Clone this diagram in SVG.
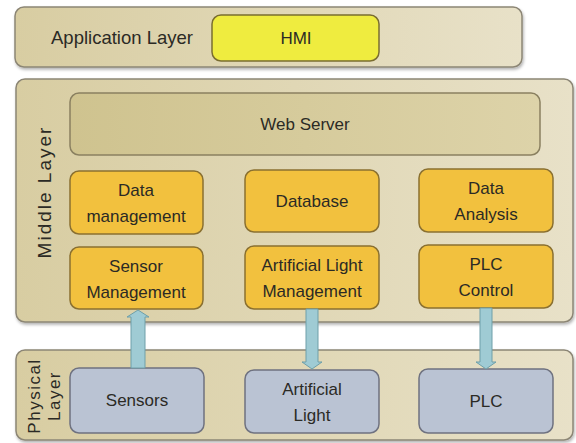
<svg xmlns="http://www.w3.org/2000/svg" width="576" height="443" viewBox="0 0 576 443">
<defs>
<linearGradient id="panelG" x1="0" y1="0" x2="1" y2="0">
<stop offset="0" stop-color="#d8cda2"/>
<stop offset="1" stop-color="#e8e1c8"/>
</linearGradient>
<linearGradient id="webG" x1="0" y1="0" x2="1" y2="0">
<stop offset="0" stop-color="#cfc38f"/>
<stop offset="1" stop-color="#ddd3a9"/>
</linearGradient>
<filter id="sh" x="-5%" y="-5%" width="110%" height="120%">
<feDropShadow dx="1" dy="2" stdDeviation="1.5" flood-color="#000" flood-opacity="0.3"/>
</filter>
<style>
.panel{fill:url(#panelG);stroke:#8c8675;stroke-width:1.5;filter:url(#sh)}
.orange{fill:#f2c13e;stroke:#8a7030;stroke-width:1.5}
.phys{fill:#bac3d3;stroke:#6f7280;stroke-width:1.5}
.web{fill:url(#webG);stroke:#8a8060;stroke-width:1.5}
.hmi{fill:#efec3f;stroke:#7a6d30;stroke-width:1.5}
text{font-family:"Liberation Sans",Arial,sans-serif;font-size:17px;fill:#2b2a25;text-anchor:middle}
.arrow{fill:#9fcbd4;stroke:#6e9fa9;stroke-width:1}
</style>
</defs>
<g id="application-layer">
<rect class="panel" x="15" y="7" width="507" height="60" rx="9"/>
<text x="122" y="44" style="font-size:18.5px">Application Layer</text>
</g>
<g id="hmi">
<rect class="hmi" x="212" y="15" width="167" height="46" rx="9"/>
<text x="296" y="44">HMI</text>
</g>
<g id="middle-layer">
<rect class="panel" x="16" y="79" width="557" height="243" rx="9"/>
<text transform="translate(51,192) rotate(-90)" style="font-size:19px;letter-spacing:2px">Middle Layer</text>
</g>
<g id="physical-layer">
<rect class="panel" x="16" y="350" width="557" height="90" rx="9"/>
<text transform="translate(40,396) rotate(-90)" style="font-size:17px;letter-spacing:1.5px">Physical</text>
<text transform="translate(60,396) rotate(-90)" style="font-size:17px;letter-spacing:1.5px">Layer</text>
</g>
<g id="web-server">
<rect class="web" x="70" y="93" width="470" height="62" rx="9"/>
<text x="305" y="130">Web Server</text>
</g>
<g id="data-management">
<rect class="orange" x="70" y="171" width="133" height="63" rx="9"/>
<text x="136" y="196">Data</text>
<text x="136" y="222">management</text>
</g>
<g id="database">
<rect class="orange" x="245" y="170" width="134" height="62" rx="9"/>
<text x="312" y="207">Database</text>
</g>
<g id="data-analysis">
<rect class="orange" x="419" y="169" width="134" height="63" rx="9"/>
<text x="486" y="194">Data</text>
<text x="486" y="220">Analysis</text>
</g>
<g id="sensor-management">
<rect class="orange" x="70" y="247" width="133" height="62" rx="9"/>
<text x="136" y="272">Sensor</text>
<text x="136" y="298">Management</text>
</g>
<g id="artificial-light-management">
<rect class="orange" x="245" y="246" width="134" height="63" rx="9"/>
<text x="312" y="271">Artificial Light</text>
<text x="312" y="297">Management</text>
</g>
<g id="plc-control">
<rect class="orange" x="419" y="245" width="134" height="63" rx="9"/>
<text x="486" y="270">PLC</text>
<text x="486" y="296">Control</text>
</g>
<g id="sensors">
<rect class="phys" x="70" y="368" width="134" height="65" rx="9"/>
<text x="137" y="406">Sensors</text>
</g>
<g id="artificial-light">
<rect class="phys" x="245" y="370" width="134" height="63" rx="9"/>
<text x="312" y="395">Artificial</text>
<text x="312" y="421">Light</text>
</g>
<g id="plc">
<rect class="phys" x="419" y="369" width="134" height="64" rx="9"/>
<text x="486" y="407">PLC</text>
</g>
<g id="connectors">
<path class="arrow" d="M131,368 L131,317 L127,317 L138,310 L149,317 L145,317 L145,368 Z"/>
<path class="arrow" d="M306,309 L306,362 L302,362 L312,369 L322,362 L318,362 L318,309 Z"/>
<path class="arrow" d="M480,308 L480,362 L476,362 L486,369 L496,362 L492,362 L492,308 Z"/>
</g>
</svg>
